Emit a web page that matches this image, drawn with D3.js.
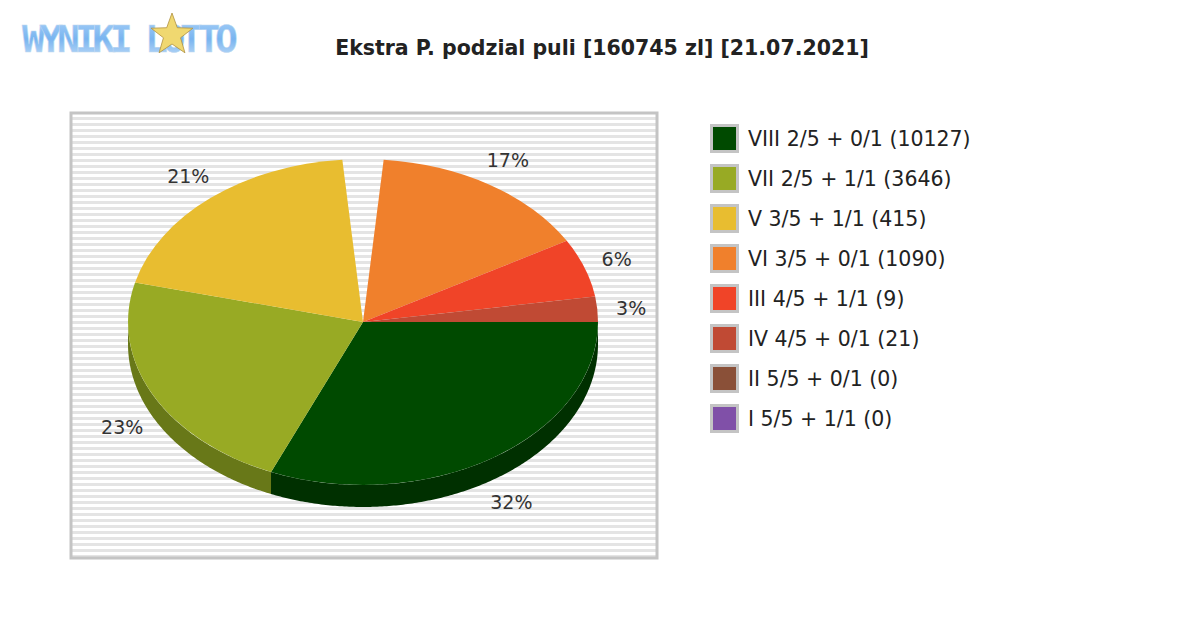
<!DOCTYPE html>
<html><head><meta charset="utf-8">
<script src="https://cdn.jsdelivr.net/npm/d3@7"></script>
<style>body{margin:0;background:#fff}</style>
</head><body>
<svg id="chart" width="1200" height="630"></svg>
<script>
// legend entries
var names = ["VIII 2/5 + 0/1 (10127)","VII 2/5 + 1/1 (3646)","V 3/5 + 1/1 (415)","VI 3/5 + 0/1 (1090)",
	"III 4/5 + 1/1 (9)","IV 4/5 + 0/1 (21)","II 5/5 + 0/1 (0)","I 5/5 + 1/1 (0)"];
var colors = ["#004a00","#98aa24","#e8bd30","#f0802c","#f04428","#c04a34","#8a5038","#8050a8"];
var sides  = ["#003000","#687818","#a08420","#a8581e","#a8301c","#863424","#603828","#583874"];
// pie shares (percent of pool) as drawn; the gap slice is the empty wedge
var shares = [31.4, 22.5, 19.7, 2.8, 15.3, 5.8, 2.5];
var sliceIdx = [0, 1, 2, -1, 3, 4, 5];
var labels = ["32%","23%","21%","","17%","6%","3%"];

var svg = d3.select('#chart');
var cx = 363, cy = 322, rx = 235, ry = 163, depth = 22;

// title
svg.append('text').attr('x',602).attr('y',55).attr('text-anchor','middle')
	.style('font-family','DejaVu Sans').style('font-weight','bold').style('font-size','20.5px')
	.attr('fill','#222').text('Ekstra P. podzial puli [160745 zl] [21.07.2021]');

// logo
var logo = svg.append('g');
var lg = svg.append('defs').append('linearGradient').attr('id','lg').attr('x1',0).attr('x2',0).attr('y1',0).attr('y2',1);
lg.append('stop').attr('offset','0').attr('stop-color','#a8d0f8');
lg.append('stop').attr('offset','0.5').attr('stop-color','#78b4f0');
lg.append('stop').attr('offset','1').attr('stop-color','#c8e0f8');
logo.append('text').attr('x',22).attr('y',52).attr('textLength',216)
	.style('font-family','DejaVu Sans Mono').style('font-weight','bold').style('font-size','38px')
	.attr('fill','url(#lg)').attr('stroke','#c0d8f0').attr('stroke-width',0.5).text('WYNIKI LOTTO');
var star = d3.range(10).map(function(i){var a=-Math.PI/2+i*Math.PI/5, r=i%2?9:22;return [172+r*Math.cos(a),35+r*Math.sin(a)];});
logo.append('path').attr('d','M'+star.join('L')+'Z').attr('fill','#f0d870').attr('stroke','#b09040').attr('stroke-width',0.8);

// frame with stripes
var fx=71, fy=113, fw=586, fh=445;
svg.append('rect').attr('x',fx).attr('y',fy).attr('width',fw).attr('height',fh).attr('fill','#fff');
svg.append('g').selectAll('rect').data(d3.range(fy+4, fy+fh-2, 6)).join('rect')
	.attr('x',fx).attr('y',function(d){return d;}).attr('width',fw).attr('height',3).attr('fill','#e4e4e4');
svg.append('rect').attr('x',fx).attr('y',fy).attr('width',fw).attr('height',fh)
	.attr('fill','none').attr('stroke','#c4c4c4').attr('stroke-width',3);

var pie = d3.pie().sort(null).value(function(d){return d;})
	.startAngle(Math.PI/2).endAngle(Math.PI/2+2*Math.PI);
var arcs = pie(shares);

// side walls (screen angle t: 0 = 3 o'clock, clockwise)
var sideG = svg.append('g');
arcs.forEach(function(a,i){
	if (sliceIdx[i] < 0) return;
	var t0 = a.startAngle - Math.PI/2, t1 = a.endAngle - Math.PI/2;
	var s = Math.max(t0, 0), e = Math.min(t1, Math.PI);
	if (e <= s) return;
	var ts = d3.range(s, e, 0.01).concat([e]);
	var up = ts.map(function(t){return [cx+rx*Math.cos(t), cy+ry*Math.sin(t)];});
	var bot = up.map(function(p){return [p[0], p[1]+depth];}).reverse();
	sideG.append('path').attr('d','M'+up.concat(bot).join('L')+'Z').attr('fill',sides[sliceIdx[i]]);
});

// top faces
var arc = d3.arc().innerRadius(0).outerRadius(1);
var faceG = svg.append('g').attr('transform','translate('+cx+','+cy+') scale('+rx+','+ry+')');
faceG.selectAll('path').data(arcs).join('path')
	.attr('d',arc)
	.attr('fill',function(d,i){return sliceIdx[i]<0 ? 'none' : colors[sliceIdx[i]];});

// labels
arcs.forEach(function(a,i){
	if (!labels[i]) return;
	var t = (a.startAngle + a.endAngle)/2 - Math.PI/2;
	var lx = cx + (rx+34)*Math.cos(t), ly = cy + (ry+30)*Math.sin(t) + (Math.sin(t)>0 ? depth*0.8 : 0);
	svg.append('text').attr('x',lx).attr('y',ly+8).attr('text-anchor','middle')
		.style('font-family','DejaVu Sans').style('font-size','19px').attr('fill','#333').text(labels[i]);
});

// legend
var leg = svg.append('g').selectAll('g').data(names).join('g')
	.attr('transform',function(d,i){return 'translate(710,'+(124+i*40)+')';});
leg.append('rect').attr('x',1.5).attr('y',1.5).attr('width',26).attr('height',26)
	.attr('fill',function(d,i){return colors[i];}).attr('stroke','#c4c4c4').attr('stroke-width',3);
leg.append('text').attr('x',38).attr('y',22)
	.style('font-family','DejaVu Sans').style('font-size','20.5px').attr('fill','#222')
	.text(function(d){return d;});
</script>
</body></html>
